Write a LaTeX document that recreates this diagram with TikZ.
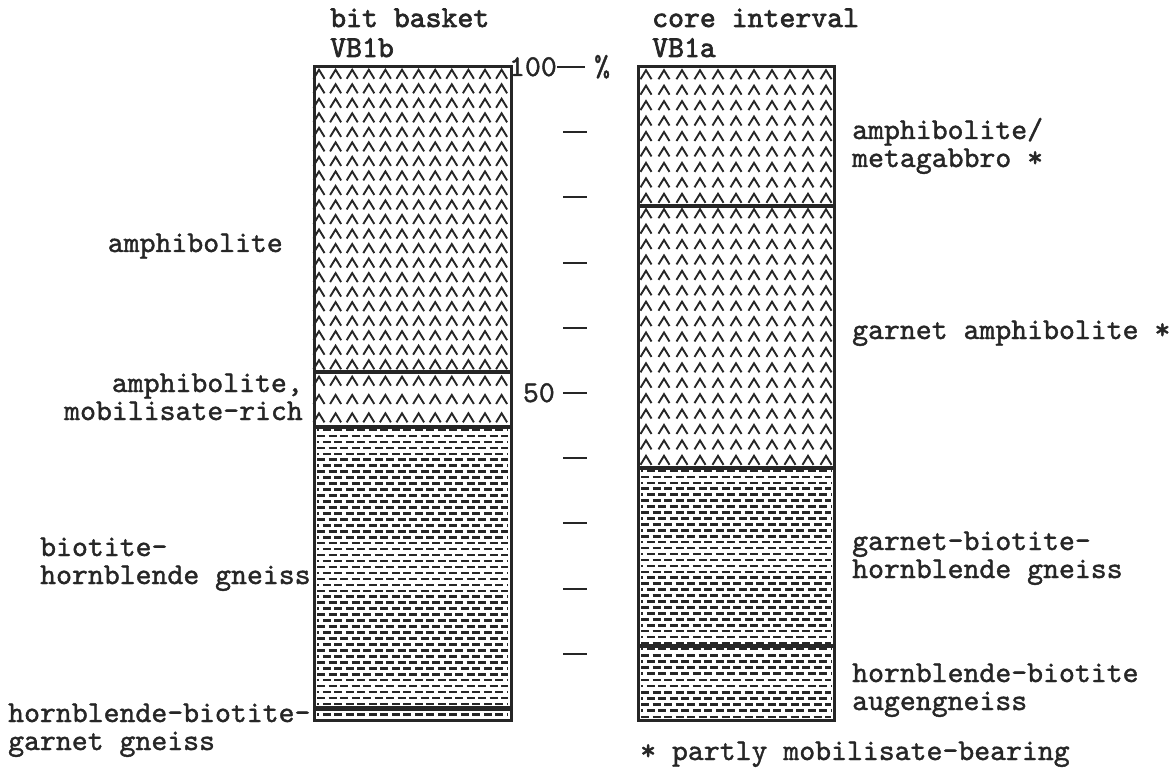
\documentclass[tikz,border=0pt]{standalone}
\usepackage{fontspec}
\newfontfamily\typewr{lmmono10-regular}[Extension=.otf, FakeBold=1.3]
\newfontfamily\typewrhead{lmmono10-regular}[Extension=.otf, FakeBold=2.2]
\usetikzlibrary{positioning}

\tikzset{
  amphline/.style={line width=1.9pt, line join=miter, black!85},
  gneissline/.style={line width=2.6pt, dash pattern=on 8pt off 3.5pt, black!85},
  colframe/.style={line width=3pt, black!85},
  layerline/.style={line width=4pt, black!85},
  scaletick/.style={line width=2pt, black!85},
  rocklabel/.style={inner sep=0pt, align=left, text=black!85,
    font=\typewr\fontsize{30.3}{28}\selectfont},
  headlabel/.style={rocklabel, font=\typewrhead\fontsize{30.3}{30}\selectfont},
}

% amphibolite carets: top, bottom, rows, first x, columns, x step
\newcommand{\caretfill}[6]{%
  \pgfmathsetmacro{\rowh}{(#2-#1)/#3}
  \foreach \i in {1,...,#3}{
    \pgfmathsetmacro{\cy}{#1+\rowh*(\i-0.5)}
    \foreach \j in {1,...,#5}{
      \pgfmathsetmacro{\cx}{#4+#6*(\j-1)}
      \draw[amphline] (\cx-5.5,\cy+4.5) -- (\cx,\cy-4.5) -- (\cx+5.5,\cy+4.5);
    }
  }}

% gneiss dashes: left, right, top, bottom, rows
\newcommand{\gneissfill}[5]{%
  \pgfmathsetmacro{\rowh}{(#4-#3)/#5}
  \foreach \i in {1,...,#5}{
    \pgfmathsetmacro{\cy}{#3+\rowh*(\i-0.5)}
    \pgfmathsetmacro{\ph}{mod(\i,2)*5.75}
    \draw[gneissline, dash phase=\ph pt] (#1+3,\cy) -- (#2-3,\cy);
  }}

\begin{document}
\begin{tikzpicture}[x=1pt, y=-1pt]
\useasboundingbox (0,0) rectangle (1176,770);

% bit basket column
\caretfill{67}{372}{21}{319}{12}{16.6}
\caretfill{372}{427}{3}{319}{12}{16.6}
\gneissfill{314}{511}{427}{707}{47}
\gneissfill{314}{511}{709}{720}{1}
\draw[layerline] (314,372) -- (511,372);
\draw[layerline] (314,427) -- (511,427);
\draw[layerline, line width=5pt] (314,708) -- (511,708);
\draw[colframe] (314,67) rectangle (511,720);

% core interval column
\caretfill{67}{206}{9}{646}{11}{18}
\caretfill{206}{468}{17}{646}{11}{18}
\gneissfill{638}{834}{468}{646}{30}
\gneissfill{638}{834}{646}{720}{12}
\draw[layerline] (638,206) -- (834,206);
\draw[layerline] (638,468) -- (834,468);
\draw[layerline] (638,646) -- (834,646);
\draw[colframe] (638,67) rectangle (834,720);

% percentage scale
\draw[scaletick] (557,67) -- (585,67);
\foreach \p in {10,20,...,90}
  \draw[scaletick] (563,719-6.52*\p) -- (587,719-6.52*\p);
\node[rocklabel, anchor=base east] (hundred) at (557,76) {100};
\node[rocklabel, anchor=base west] (pct) at (594,76) {\%};
\node[rocklabel, anchor=base east] (fifty) at (555,402) {50};

% headings
\node[headlabel, anchor=base west] (bitbasket) at (330,57) {bit basket\\VB1b};
\node[headlabel, anchor=base west] (coreint) at (652,57) {core interval\\VB1a};

% bit basket labels
\node[rocklabel, anchor=base east] (amphL) at (283,252) {amphibolite};
\node[rocklabel, anchor=base east, align=right] (amphmob) at (303,420) {amphibolite,\\mobilisate-rich};
\node[rocklabel, anchor=base west] (biohbl) at (40,584) {biotite-\\hornblende gneiss};
\node[rocklabel, anchor=base west] (hblbiogt) at (8,750) {hornblende-biotite-\\garnet gneiss};

% core interval labels
\node[rocklabel, anchor=base west] (amphR) at (852,167) {amphibolite/\\metagabbro *};
\node[rocklabel, anchor=base west] (gtamph) at (852,339) {garnet amphibolite *};
\node[rocklabel, anchor=base west] (gtbiohbl) at (852,578) {garnet-biotite-\\hornblende gneiss};
\node[rocklabel, anchor=base west] (augen) at (852,710) {hornblende-biotite\\augengneiss};
\node[rocklabel, anchor=base west] (note) at (640,760) {* partly mobilisate-bearing};
\end{tikzpicture}
\end{document}
